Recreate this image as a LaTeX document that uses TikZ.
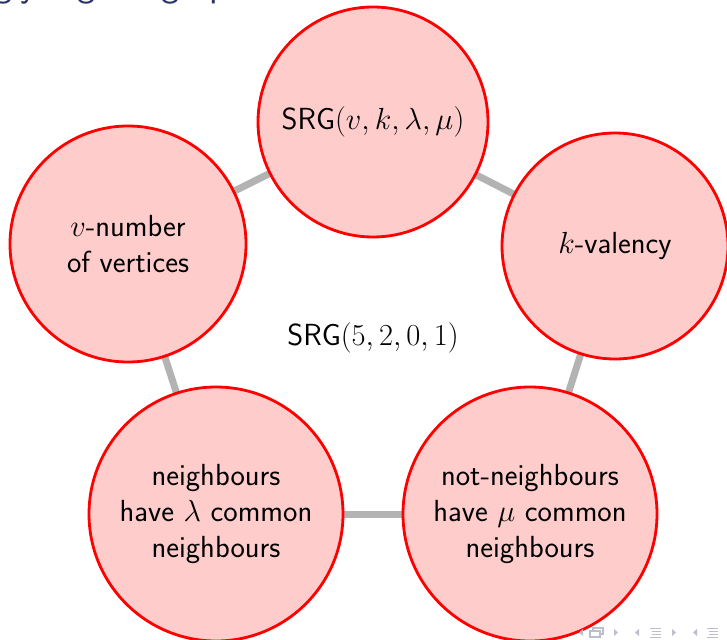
\RequirePackage{fix-cm}
\documentclass[tikz,border=0pt]{standalone}
\usepackage{tikz}
\pgfdeclarelayer{background}
\pgfsetlayers{background,main}
\definecolor{circfill}{RGB}{255,204,204}
\definecolor{circdraw}{RGB}{255,0,0}
\definecolor{linkgray}{RGB}{179,179,179}
\definecolor{titlecol}{RGB}{40,52,105}
\definecolor{navcol}{RGB}{188,190,204}
\tikzset{
  bubble/.style={circle, draw=circdraw, fill=circfill, line width=2.8pt,
    inner sep=0pt, align=center, font=\sffamily\fontsize{30.5}{36}\selectfont},
  link/.style={draw=linkgray, line width=7pt},
  navtri/.style={fill=navcol, draw=none},
  navline/.style={draw=navcol, line width=1pt},
}
\begin{document}
\begin{tikzpicture}[x=1pt, y=-1pt]
\useasboundingbox (0,0) rectangle (727,639);
\begin{pgfonlayer}{background}
\fill[white] (0,0) rectangle (727,639);
\end{pgfonlayer}
% cut-off title
\node[anchor=base west, inner sep=0pt, text=titlecol,
  font=\sffamily\fontsize{38}{44}\selectfont] (title) at (-87,-3.5) {Strongly regular graphs};
% circles
\node[bubble, minimum size=230pt] (top) at (373,122) {SRG$(v,k,\lambda,\mu)$};
\node[bubble, minimum size=236pt] (left) at (128,244) {$v$-number\\of vertices};
\node[bubble, minimum size=226pt] (right) at (615,246) {$k$-valency};
\node[bubble, minimum size=254pt] (bl) at (216,514) {neighbours\\have $\lambda$ common\\neighbours};
\node[bubble, minimum size=254pt] (br) at (530,514) {not-neighbours\\have $\mu$ common\\neighbours};
\node[font=\sffamily\fontsize{30.5}{36}\selectfont, inner sep=0pt] (mid) at (373,338) {SRG$(5,2,0,1)$};
% connectors behind circles
\begin{pgfonlayer}{background}
\draw[link] (top.center) -- (left.center);
\draw[link] (top.center) -- (right.center);
\draw[link] (right.center) -- (br.center);
\draw[link] (br.center) -- (bl.center);
\draw[link] (bl.center) -- (left.center);
\end{pgfonlayer}
% navigation symbols
\begin{scope}
\fill[navtri] (583,629) -- (579,632.5) -- (583,636) -- cycle;
\draw[navcol, line width=1.2pt, fill=white] (593,628) rectangle (603,634);
\draw[navcol, line width=1.2pt, fill=white] (590,631) rectangle (600,637);
\fill[navtri] (614,629) -- (618,632.5) -- (614,636) -- cycle;
\fill[navtri] (639,629) -- (635,632.5) -- (639,636) -- cycle;
\draw[navline] (650,628) -- (661,628);
\draw[navline] (652,631) -- (661,631);
\draw[navline] (652,634) -- (661,634);
\draw[navline] (650,637) -- (661,637);
\fill[navtri] (672,629) -- (676,632.5) -- (672,636) -- cycle;
\fill[navtri] (697,629) -- (693,632.5) -- (697,636) -- cycle;
\draw[navline] (707,628) -- (718,628);
\draw[navline] (709,631) -- (718,631);
\draw[navline] (709,634) -- (718,634);
\draw[navline] (707,637) -- (718,637);
\end{scope}
\end{tikzpicture}
\end{document}
